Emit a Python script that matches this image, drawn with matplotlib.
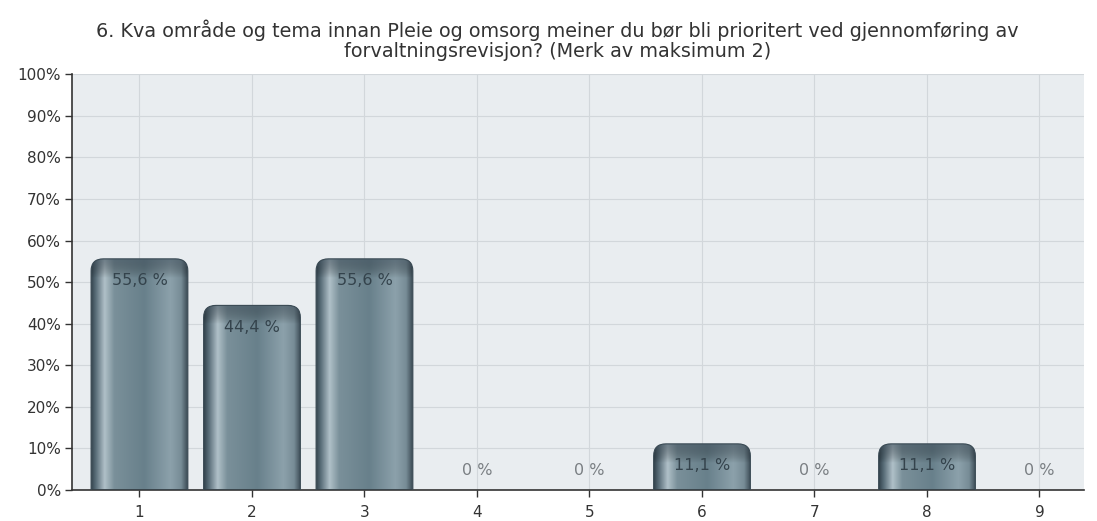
import matplotlib.pyplot as plt
import numpy as np
from matplotlib.path import Path
from matplotlib.patches import PathPatch
from matplotlib.colors import LinearSegmentedColormap

plt.rcParams['font.family'] = ['DejaVu Sans']

categories = ['1', '2', '3', '4', '5', '6', '7', '8', '9']
values = [55.6, 44.4, 55.6, 0, 0, 11.1, 0, 11.1, 0]
labels = ['55,6 %', '44,4 %', '55,6 %', '0 %', '0 %', '11,1 %', '0 %', '11,1 %', '0 %']
title = ('6. Kva område og tema innan Pleie og omsorg meiner du bør bli prioritert ved gjennomføring av\n'
         'forvaltningsrevisjon? (Merk av maksimum 2)')

fig = plt.figure(figsize=(10.97, 5.21), dpi=100)
ax = fig.add_axes([0.0656, 0.0595, 0.923, 0.798])
ax.set_facecolor('#e9edf0')

x = np.arange(1, len(categories) + 1)
ax.set_xlim(0.4, 9.4)
ax.set_ylim(0, 100)

# cylinder look for the bars
cmap = LinearSegmentedColormap.from_list('bar', [
    (0.0, '#34444e'), (0.05, '#5b6f7a'), (0.14, '#b0c0c8'), (0.24, '#7a909a'),
    (0.55, '#68808b'), (0.82, '#8ca1ab'), (0.93, '#788d97'), (1.0, '#3a4a54')])
grad = np.linspace(0, 1, 256).reshape(1, -1)

w = 0.86
rx, ry = 0.11, 2.9
for xi, v in zip(x, values):
    if v <= 0:
        continue
    x0, x1 = xi - w / 2, xi + w / 2
    verts = [(x0, 0), (x0, v - ry), (x0, v), (x0 + rx, v), (x1 - rx, v),
             (x1, v), (x1, v - ry), (x1, 0), (x0, 0)]
    codes = [Path.MOVETO, Path.LINETO, Path.CURVE3, Path.CURVE3, Path.LINETO,
             Path.CURVE3, Path.CURVE3, Path.LINETO, Path.CLOSEPOLY]
    patch = PathPatch(Path(verts, codes), facecolor='none', edgecolor='#3a4a54', lw=0.8, zorder=3)
    ax.add_patch(patch)
    im = ax.imshow(grad, cmap=cmap, extent=[x0, x1, 0, v], aspect='auto', zorder=2)
    im.set_clip_path(patch)
    # darker cap at the top
    cap = np.linspace(0, 1, 64).reshape(-1, 1)
    top = ax.imshow(cap, cmap=LinearSegmentedColormap.from_list('cap', [(0, 0, 0, 0), (0.24, 0.3, 0.35, 0.55)]),
                    extent=[x0, x1, v - 4.5, v], aspect='auto', origin='lower', zorder=2.5)
    top.set_clip_path(patch)

for xi, v, lab in zip(x, values, labels):
    if v > 0:
        ax.text(xi, v - 5.3, lab, ha='center', va='center', fontsize=11.5, color='#34434c', zorder=4)
    else:
        ax.text(xi, 4.8, lab, ha='center', va='center', fontsize=11.5, color='#7a7f83', zorder=4)

ax.set_xticks(x)
ax.set_xticklabels(categories)
ax.set_yticks(np.arange(0, 101, 10))
ax.set_yticklabels(['%d%%' % t for t in range(0, 101, 10)])
ax.grid(True, color='#d2d7db', lw=0.8, zorder=0)
ax.set_axisbelow(True)
ax.tick_params(axis='both', labelsize=11, colors='#333333', length=5, width=1)
ax.tick_params(axis='x', pad=6)
ax.tick_params(axis='y', pad=3)
for s in ['top', 'right']:
    ax.spines[s].set_visible(False)
for s in ['left', 'bottom']:
    ax.spines[s].set_color('#333333')
    ax.spines[s].set_linewidth(1.2)

fig.text(0.508, 0.923, title, ha='center', va='center', fontsize=13.8, color='#333333', linespacing=1.05)

plt.savefig('out.png', dpi=100)
